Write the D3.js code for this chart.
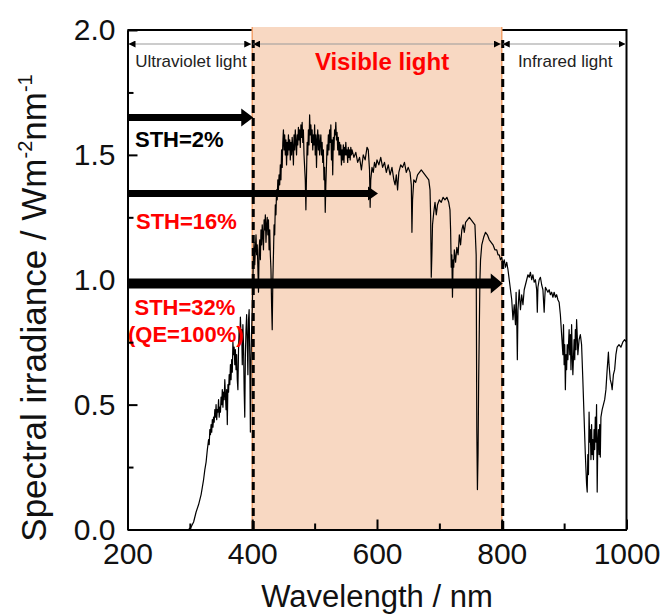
<!DOCTYPE html>
<html>
<head>
<meta charset="utf-8">
<script src="https://cdn.jsdelivr.net/npm/d3@7/dist/d3.min.js"></script>
<style>
  body { margin: 0; background: #fff; }
  svg text { font-family: "Liberation Sans", Arial, sans-serif; }
</style>
</head>
<body>
<div id="chart"></div>
<script>
// AM1.5G spectrum: [wavelength nm, irradiance W m-2 nm-1]
const uvSpectrum = [
  [298,0],[302,0.01],[306,0.03],[310,0.07],[314,0.10],[318,0.14],[320,0.17],[322,0.20],[324,0.24],[326,0.27],
  [328,0.32],[330,0.36],[331,0.34],[332,0.40],[333,0.38],[334,0.42],[335,0.39],[336,0.44],[337,0.41],[338,0.45],
  [339,0.43],[340,0.48],[341,0.45],[342,0.50],[343,0.44],[344,0.48],[345,0.47],[346,0.52],[347,0.45],[348,0.49],
  [349,0.47],[350,0.53],[351,0.50],[352,0.56],[353,0.49],[354,0.55],[355,0.52],[356,0.60],[357,0.54],[358,0.48],
  [359,0.56],[360,0.42],[361,0.58],[362,0.55],[363,0.62],[364,0.58],[365,0.66],[366,0.60],[367,0.68],[368,0.63],
  [369,0.75],[370,0.70],[371,0.73],[372,0.66],[373,0.72],[374,0.64],[375,0.70],[376,0.60],[377,0.56],[378,0.72],
  [379,0.80],[380,0.74],[381,0.85],[382,0.78],[383,0.80],[384,0.66],[385,0.82],[386,0.74],[387,0.56],[388,0.45],
  [389,0.70],[390,0.80],[391,0.86],[392,0.76],[393,0.62],[394,0.84],[395,0.88],[396,0.70],[397,0.39],[398,0.68],
  [399,0.80],[400,0.88]
];
const visSpectrum = [
  [401,1.00],[402,1.10],[403,1.15],[404,1.06],[405,1.12],[406,1.18],[407,1.10],[408,1.14],[409,1.05],[410,0.95],
  [411,1.12],[412,1.16],[413,1.08],[414,1.20],[415,1.14],[416,1.22],[417,1.18],[418,1.12],[419,1.24],[420,1.20],
  [421,1.26],[422,1.15],[423,1.22],[424,1.25],[425,1.18],[426,1.24],[427,1.12],[428,1.20],[429,1.10],[430,1.04],
  [431,0.90],[432,0.80],[433,1.00],[434,1.10],[435,1.22],[436,1.18],[437,1.30],[438,1.26],[439,1.36],[440,1.32],
  [441,1.40],[442,1.36],[443,1.42],[444,1.38],[445,1.46],[446,1.40],[447,1.52],[448,1.45],[449,1.55],[450,1.60],
  [451,1.52],[452,1.58],[453,1.50],[454,1.56],[455,1.46],[456,1.55],[457,1.50],[458,1.58],[459,1.52],[460,1.56],
  [461,1.48],[462,1.55],[463,1.50],[464,1.57],[465,1.53],[466,1.46],[467,1.58],[468,1.52],[469,1.60],[470,1.55],
  [471,1.50],[472,1.58],[473,1.54],[474,1.61],[475,1.56],[476,1.60],[477,1.53],[478,1.62],[479,1.57],[480,1.63],
  [481,1.55],[482,1.60],[483,1.50],[484,1.45],[485,1.40],[486,1.28],[487,1.42],[488,1.55],[489,1.50],[490,1.60],
  [491,1.54],[492,1.66],[493,1.58],[494,1.62],[495,1.55],[496,1.60],[497,1.52],[498,1.58],[499,1.54],[500,1.62],
  [501,1.50],[502,1.58],[503,1.45],[504,1.56],[505,1.60],[506,1.52],[507,1.58],[508,1.50],[509,1.55],[510,1.58],
  [511,1.50],[512,1.55],[513,1.47],[514,1.52],[515,1.40],[516,1.45],[517,1.27],[518,1.38],[519,1.46],[520,1.54],
  [521,1.50],[522,1.58],[523,1.52],[524,1.60],[525,1.55],[526,1.62],[527,1.48],[528,1.56],[529,1.42],[530,1.57],
  [531,1.52],[532,1.60],[533,1.58],[534,1.63],[535,1.56],[536,1.59],[537,1.52],[538,1.57],[539,1.50],[540,1.55],
  [541,1.50],[542,1.54],[543,1.46],[544,1.52],[545,1.48],[546,1.54],[547,1.47],[548,1.53],[549,1.50],[550,1.55],
  [551,1.50],[552,1.52],[553,1.47],[554,1.53],[555,1.49],[556,1.52],[557,1.48],[558,1.53],[559,1.50],[560,1.52],
  [563,1.49],[566,1.51],[569,1.47],[572,1.49],[575,1.44],[578,1.50],[581,1.48],[584,1.53],[586,1.52],[588,1.44],
  [589,1.29],[590,1.40],[592,1.45],[594,1.43],[596,1.47],[598,1.45],[600,1.48],[603,1.46],[606,1.49],[609,1.45],
  [612,1.47],[615,1.43],[618,1.46],[621,1.42],[624,1.45],[627,1.40],[629,1.38],[631,1.42],[633,1.36],[635,1.43],
  [638,1.46],[641,1.45],[644,1.47],[647,1.43],[650,1.45],[653,1.43],[655,1.38],[656,1.19],[657,1.32],[659,1.40],
  [662,1.39],[665,1.42],[668,1.43],[671,1.44],[674,1.43],[677,1.42],[680,1.41],[683,1.40],[685,1.36],[686,1.25],
  [687,1.01],[688,1.10],[689,1.22],[691,1.27],[693,1.31],[695,1.26],[697,1.30],[700,1.32],[703,1.31],[706,1.33],
  [709,1.32],[712,1.33],[715,1.31],[717,1.28],[718,1.20],[719,1.05],[720,1.10],[721,0.93],[722,1.08],[723,1.05],
  [724,1.12],[726,1.07],[728,1.13],[730,1.10],[732,1.18],[734,1.14],[736,1.20],[738,1.22],[740,1.19],[742,1.23],
  [745,1.24],[748,1.25],[751,1.24],[754,1.23],[757,1.22],[759,1.10],[760,0.40],[761,0.16],[762,0.30],[763,0.60],
  [764,0.80],[765,1.00],[766,1.08],[768,1.14],[771,1.17],[774,1.19],[777,1.18],[780,1.16],[783,1.15],[786,1.14],
  [789,1.12],[792,1.12],[794,1.10],[796,1.10],[798,1.08],[800,1.09]
];
const irSpectrum = [
  [802,1.06],[804,1.08],[806,1.05],[808,1.07],[810,1.04],[812,1.00],[814,0.96],[816,0.92],[818,0.84],[820,0.90],
  [822,0.82],[823,0.95],[824,0.85],[825,0.68],[826,0.88],[828,0.96],[830,0.88],[832,0.94],[834,0.90],[836,0.96],
  [838,0.98],[840,1.00],[842,1.02],[844,1.01],[846,1.03],[848,1.00],[850,1.02],[852,0.99],[854,1.00],[856,0.96],
  [857,0.87],[858,0.97],[860,1.00],[862,1.01],[864,0.98],[866,0.96],[868,0.87],[869,0.93],[870,0.97],[872,0.96],
  [874,0.95],[876,0.96],[878,0.94],[880,0.95],[882,0.93],[884,0.95],[886,0.93],[888,0.94],[890,0.92],[892,0.91],
  [894,0.86],[896,0.78],[898,0.70],[899,0.82],[900,0.66],[901,0.74],[902,0.56],[903,0.70],[904,0.64],[905,0.74],
  [906,0.68],[908,0.80],[909,0.70],[910,0.78],[911,0.64],[912,0.82],[913,0.70],[914,0.62],[916,0.76],[917,0.68],
  [918,0.80],[919,0.72],[920,0.84],[921,0.78],[922,0.70],[924,0.76],[926,0.78],[928,0.74],[930,0.60],[932,0.45],
  [934,0.30],[936,0.18],[937,0.15],[938,0.30],[939,0.22],[940,0.47],[941,0.35],[942,0.40],[943,0.28],[944,0.42],
  [945,0.30],[946,0.36],[947,0.28],[948,0.40],[949,0.32],[950,0.45],[951,0.35],[952,0.50],[953,0.15],[954,0.35],
  [955,0.40],[956,0.30],[957,0.42],[958,0.29],[959,0.45],[961,0.48],[963,0.50],[965,0.52],[967,0.56],[969,0.64],
  [971,0.71],[972,0.66],[974,0.60],[976,0.58],[977,0.56],[979,0.62],[981,0.64],[983,0.70],[985,0.73],[988,0.74],
  [991,0.73],[994,0.75],[997,0.76],[1000,0.75]
];

// axis ticks
const xMajor = [200, 400, 600, 800, 1000];
const xMinor = [300, 500, 700, 900];
const yMajor = [0, 0.5, 1.0, 1.5, 2.0];
const yMinor = [0.25, 0.75, 1.25, 1.75];

// light regions (nm)
const regionNames = ["Ultraviolet light", "Visible light", "Infrared light"];
const regionStart = [200, 400, 800];
const regionEnd = [400, 800, 1000];

// STH arrows: end wavelength, level on y axis
const sthLabels = ["STH=2%", "STH=16%", "STH=32%"];
const sthEnd = [400, 600, 800];
const sthLevel = [1.65, 1.345, 0.985];

const width = 663, height = 615;
const svg = d3.select("#chart").append("svg")
  .attr("width", width)
  .attr("height", height);

const x = d3.scaleLinear().domain([200, 1000]).range([127.5, 626.5]);
const y = d3.scaleLinear().domain([0, 2]).range([529.5, 30]);

// frame top + right
svg.append("path")
  .attr("d", `M${x(200)},${y(2)} H${x(1000)} V${y(0)}`)
  .attr("fill", "none").attr("stroke", "#000").attr("stroke-width", 2);

// visible band
svg.append("rect")
  .attr("x", x(400)).attr("y", 27)
  .attr("width", x(800) - x(400)).attr("height", y(0) - 27)
  .attr("fill", "#f8d8c2");
[400, 800].forEach(w => {
  svg.append("line")
    .attr("x1", x(w)).attr("x2", x(w)).attr("y1", 27).attr("y2", y(0))
    .attr("stroke", "#f4a46e").attr("stroke-width", 1.5);
});

// spectrum
const spectrum = uvSpectrum.concat(visSpectrum, irSpectrum);
const line = d3.line().x(d => x(d[0])).y(d => y(d[1]));
svg.append("path")
  .datum(spectrum)
  .attr("d", line)
  .attr("fill", "none")
  .attr("stroke", "#000")
  .attr("stroke-width", 1.2)
  .attr("stroke-linejoin", "round");

// dashed boundaries
[400, 800].forEach(w => {
  svg.append("line")
    .attr("x1", x(w) + 1).attr("x2", x(w) + 1).attr("y1", 40).attr("y2", y(0))
    .attr("stroke", "#000").attr("stroke-width", 3)
    .attr("stroke-dasharray", "8,5");
});

// region double arrows
const defs = svg.append("defs");
defs.append("marker").attr("id", "ah").attr("viewBox", "0 0 10 10")
  .attr("refX", 10).attr("refY", 5)
  .attr("markerUnits", "userSpaceOnUse")
  .attr("markerWidth", 7).attr("markerHeight", 7)
  .attr("orient", "auto-start-reverse")
  .append("path").attr("d", "M0,0 L10,5 L0,10 Z").attr("fill", "#000");

const arrowY = 44;
regionNames.forEach((name, i) => {
  svg.append("line")
    .attr("x1", x(regionStart[i]) + 1).attr("x2", x(regionEnd[i]) - 1)
    .attr("y1", arrowY).attr("y2", arrowY)
    .attr("stroke", "#999").attr("stroke-width", 1.2)
    .attr("marker-start", "url(#ah)").attr("marker-end", "url(#ah)");
  const mid = (x(regionStart[i]) + x(regionEnd[i])) / 2;
  const vis = i === 1;
  svg.append("text")
    .attr("x", vis ? mid + 5 : mid + 1)
    .attr("y", vis ? 70 : 67)
    .attr("text-anchor", "middle")
    .attr("font-size", vis ? 24 : 17)
    .attr("font-weight", vis ? "bold" : "normal")
    .attr("fill", vis ? "#ff0000" : "#222")
    .text(name);
});

// STH arrows
const sthStyle = [
  { t: 7, hl: 12, hw: 9 },
  { t: 7, hl: 10, hw: 7 },
  { t: 10, hl: 12, hw: 10 }
];
sthLabels.forEach((lab, i) => {
  const x0 = x(200), x1 = x(sthEnd[i]) + 1, yc = y(sthLevel[i]);
  const s = sthStyle[i];
  svg.append("path")
    .attr("d", `M${x0},${yc - s.t / 2} L${x1 - s.hl},${yc - s.t / 2} L${x1 - s.hl},${yc - s.hw} L${x1},${yc} ` +
               `L${x1 - s.hl},${yc + s.hw} L${x1 - s.hl},${yc + s.t / 2} L${x0},${yc + s.t / 2} Z`)
    .attr("fill", "#000");
});

const sthText = svg.append("g")
  .attr("font-size", 22).attr("font-weight", "bold");
sthText.append("text").attr("x", 135).attr("y", 147).attr("fill", "#000").text(sthLabels[0]);
sthText.append("text").attr("x", 136).attr("y", 228.5).attr("fill", "#ff0000").text(sthLabels[1]);
sthText.append("text").attr("x", 134.5).attr("y", 315).attr("fill", "#ff0000").text(sthLabels[2]);
sthText.append("text").attr("x", 128).attr("y", 342).attr("fill", "#ff0000").text("(QE=100%)");

// axes
svg.append("g").attr("transform", `translate(0,${y(0)})`)
  .call(d3.axisBottom(x).tickValues(xMajor).tickSize(-10).tickSizeOuter(0).tickPadding(13).tickFormat(d3.format("d")));
svg.append("g").attr("transform", `translate(0,${y(0)})`)
  .call(d3.axisBottom(x).tickValues(xMinor).tickSize(-6).tickSizeOuter(0).tickFormat(""))
  .select(".domain").remove();

svg.append("g").attr("transform", `translate(${x(200)},0)`)
  .call(d3.axisLeft(y).tickValues(yMajor).tickSize(-10).tickSizeOuter(0).tickPadding(12).tickFormat(d3.format(".1f")));
svg.append("g").attr("transform", `translate(${x(200)},0)`)
  .call(d3.axisLeft(y).tickValues(yMinor).tickSize(-6).tickSizeOuter(0).tickFormat(""))
  .select(".domain").remove();

svg.selectAll(".domain").attr("stroke-width", 2);
svg.selectAll(".tick line").attr("stroke-width", 2);
svg.selectAll(".tick text")
  .attr("font-family", '"Liberation Sans", Arial, sans-serif')
  .attr("font-size", 30).attr("fill", "#111");

// titles
svg.append("text")
  .attr("x", x(600)).attr("y", 607)
  .attr("text-anchor", "middle").attr("font-size", 31).attr("fill", "#111")
  .text("Wavelength / nm");

const yt = svg.append("text")
  .attr("transform", "translate(46,308) rotate(-90)")
  .attr("text-anchor", "middle").attr("font-size", 35).attr("fill", "#111");
yt.append("tspan").text("Spectral irradiance / Wm");
yt.append("tspan").attr("dy", -14).attr("font-size", 20).text("-2");
yt.append("tspan").attr("dy", 14).text("nm");
yt.append("tspan").attr("dy", -14).attr("font-size", 20).text("-1");
</script>
</body>
</html>
